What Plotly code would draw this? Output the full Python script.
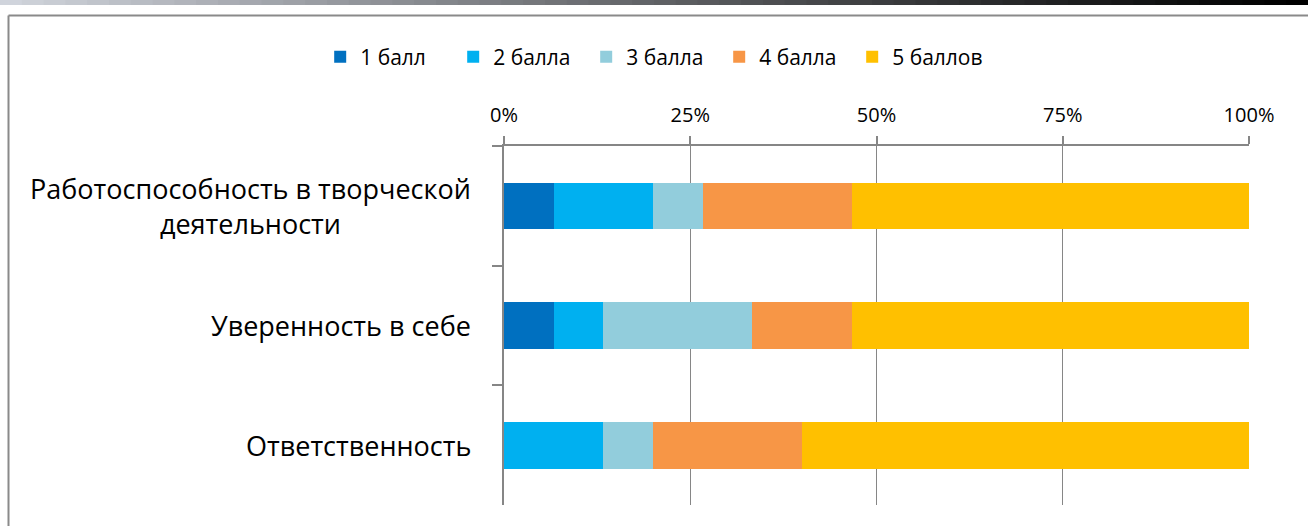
import plotly.graph_objects as go

categories = ['Работоспособность в творческой<br>деятельности', 'Уверенность в себе', 'Ответственность']
series_names = ['1 балл', '2 балла', '3 балла', '4 балла', '5 баллов']
series_values = [
    [6.67, 6.67, 0.0],
    [13.33, 6.67, 13.33],
    [6.67, 20.0, 6.67],
    [20.0, 13.33, 20.0],
    [53.33, 53.33, 60.0],
]
colors = ['#0070C0', '#00B0F0', '#92CDDC', '#F79646', '#FFC000']
tick_vals = [0, 25, 50, 75, 100]
tick_text = ['0%', '25%', '50%', '75%', '100%']

W, H = 1308, 526
L, R, T, B = 504, 59, 146, 21
pw, ph = W - L - R, H - T - B

def px(x):
    return (x - L) / pw

def py(y):
    return (H - B - y) / ph

FONT = 'Open Sans'

fig = go.Figure()
for name, vals, c in zip(series_names, series_values, colors):
    fig.add_trace(go.Bar(y=categories, x=vals, name=name, orientation='h',
                         marker=dict(color=c, line=dict(width=0))))

# category labels, centred lines like the original
for cat in categories:
    fig.add_annotation(x=px(473), xref='paper', y=cat, yref='y', text=cat,
                       showarrow=False, xanchor='right', align='center',
                       font=dict(family=FONT, size=27, color='#000000'))

shapes = []
# top decorative gradient band
n = 60
for i in range(n):
    t = i / (n - 1)
    r = int(208 * (1 - t) ** 1.1)
    g = int(212 * (1 - t) ** 1.1)
    b = int(220 * (1 - t) ** 1.1)
    x0 = i * W / n
    x1 = (i + 1) * W / n + 1
    shapes.append(dict(type='rect', xref='paper', yref='paper',
                       x0=px(x0), x1=px(x1), y0=py(5), y1=py(0),
                       line=dict(width=0), fillcolor=f'rgb({r},{g},{b})', layer='below'))
# frame lines (left and top)
shapes.append(dict(type='line', xref='paper', yref='paper', x0=px(8.5), x1=px(8.5),
                   y0=py(526), y1=py(15.5), line=dict(color='#8a8a8a', width=2)))
shapes.append(dict(type='line', xref='paper', yref='paper', x0=px(8.5), x1=px(1308),
                   y0=py(15.5), y1=py(15.5), line=dict(color='#8a8a8a', width=2)))

fig.update_layout(
    barmode='stack', bargap=0.61,
    width=W, height=H,
    margin=dict(l=L, r=R, t=T, b=B),
    paper_bgcolor='white', plot_bgcolor='white',
    font=dict(family=FONT, size=20, color='#000000'),
    legend=dict(orientation='h', xref='container', x=0.499, xanchor='center',
                yref='container', y=1 - 57 / H, yanchor='middle',
                font=dict(size=21), itemwidth=30, traceorder='normal',
                entrywidth=88, entrywidthmode='pixels'),
    shapes=shapes,
    xaxis=dict(side='top', range=[0, 100], tickvals=tick_vals, ticktext=tick_text,
               showgrid=True, gridcolor='#868686', gridwidth=1,
               showline=True, linecolor='#868686', linewidth=2,
               ticks='outside', ticklen=8, tickcolor='#868686', tickwidth=2,
               ticklabelstandoff=6,
               zeroline=False, fixedrange=True, tickfont=dict(size=20)),
    yaxis=dict(autorange='reversed', showticklabels=False, tickson='boundaries',
               ticks='outside', ticklen=10, tickcolor='#868686', tickwidth=2,
               showline=True, linecolor='#868686', linewidth=2,
               showgrid=False, zeroline=False),
    showlegend=True,
)

fig.write_html('out.html', config={'displayModeBar': False},
               post_script="document.body.style.margin='0';")
